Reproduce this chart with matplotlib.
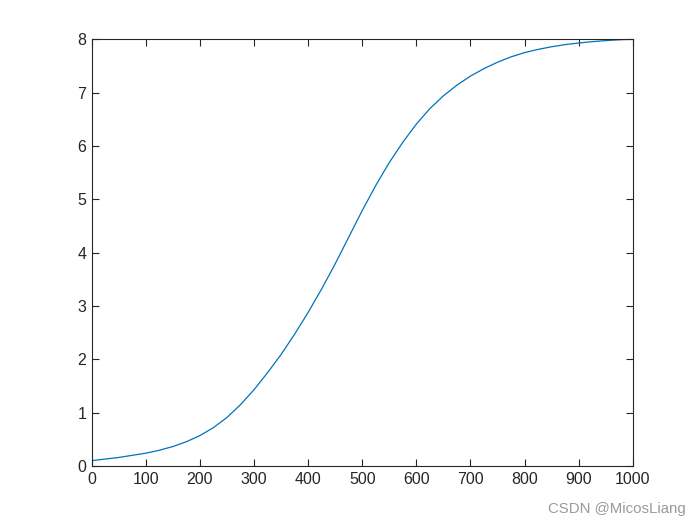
import matplotlib.pyplot as plt

plt.rcParams['font.family'] = ['Liberation Sans', 'DejaVu Sans']

# values (every 25 units of x)
x_values = [0, 25, 50, 75, 100, 125, 150, 175, 200, 225, 250,
            275, 300, 325, 350, 375, 400, 425, 450, 475, 500,
            525, 550, 575, 600, 625, 650, 675, 700, 725, 750,
            775, 800, 825, 850, 875, 900, 925, 950, 975, 1000]
y_values = [0.10, 0.13, 0.16, 0.20, 0.24, 0.295, 0.365, 0.455, 0.57, 0.72, 0.91,
            1.15, 1.43, 1.75, 2.09, 2.47, 2.88, 3.32, 3.79, 4.29, 4.79,
            5.26, 5.69, 6.07, 6.41, 6.70, 6.94, 7.14, 7.31, 7.45, 7.57,
            7.67, 7.75, 7.81, 7.86, 7.90, 7.93, 7.955, 7.975, 7.99, 8.00]

x_ticks = list(range(0, 1001, 100))
y_ticks = list(range(0, 9))

AXIS_COLOR = "#262626"


def main():
    fig = plt.figure(figsize=(7, 5.25), dpi=100)
    ax = fig.add_axes([0.131, 0.1124, 0.773, 0.8128])

    ax.plot(x_values, y_values, color="#0072BD", linewidth=0.9)

    ax.set_xlim(0, 1000)
    ax.set_ylim(0, 8)
    ax.set_xticks(x_ticks)
    ax.set_yticks(y_ticks)
    ax.tick_params(direction="in", length=5, width=0.8, colors=AXIS_COLOR,
                   labelsize=11.5, top=True, right=True, pad=4)
    for spine in ax.spines.values():
        spine.set_color(AXIS_COLOR)
        spine.set_linewidth(0.8)

    fig.text(0.98, 0.023, "CSDN @MicosLiang", color="#9a9a9a",
             fontsize=10.8, ha="right", va="baseline")

    fig.savefig("out.png", dpi=100)


if __name__ == "__main__":
    main()
